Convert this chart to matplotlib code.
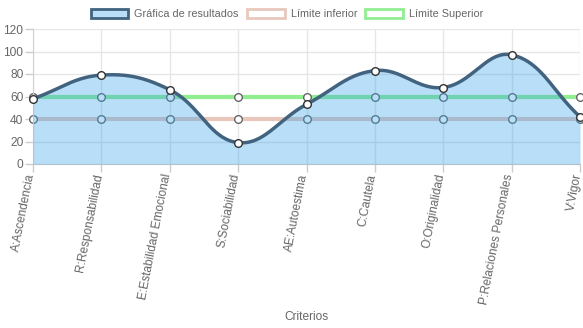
import numpy as np
import matplotlib
matplotlib.use("Agg")
import matplotlib.pyplot as plt
import matplotlib.transforms as mtransforms
from matplotlib.patches import Patch

criterios = ["A:Ascendencia", "R:Responsabilidad", "E:Estabilidad Emocional",
             "S:Sociabilidad", "AE:Autoestima", "C:Cautela", "O:Originalidad",
             "P:Relaciones Personales", "V:Vigor"]
resultados = [58, 79, 66, 19, 53, 83, 68, 97, 42]
limite_inferior = [40, 40, 40, 40, 40, 40, 40, 40, 40]
limite_superior = [60, 60, 60, 60, 60, 60, 60, 60, 60]
y_ticks = [0, 20, 40, 60, 80, 100, 120]

plt.rcParams["font.family"] = ["Liberation Sans", "DejaVu Sans"]
TXT = "#666666"

W, H = 583, 328
fig = plt.figure(figsize=(W / 100, H / 100), dpi=100)
x0, x1, ytop, ybot = 33, 580, 29, 164
ax = fig.add_axes([x0 / W, 1 - ybot / H, (x1 - x0) / W, (ybot - ytop) / H])

n = len(criterios)
xs = np.arange(n)
px_x = (x1 - x0) / (n - 1)
px_y = (ybot - ytop) / 120.0


def spline(xv, yv, tension=0.4, steps=40):
    # cubic bezier through the points, control points as in Chart.js
    P = np.column_stack([np.asarray(xv, float) * px_x, np.asarray(yv, float) * px_y])
    m = len(P)
    cp_prev = P.copy()
    cp_next = P.copy()
    for i in range(m):
        prev = P[max(i - 1, 0)]
        nxt = P[min(i + 1, m - 1)]
        d01 = np.hypot(*(P[i] - prev))
        d12 = np.hypot(*(nxt - P[i]))
        tot = d01 + d12
        s01 = d01 / tot if tot else 0
        s12 = d12 / tot if tot else 0
        cp_prev[i] = P[i] - tension * s01 * (nxt - prev)
        cp_next[i] = P[i] + tension * s12 * (nxt - prev)
    t = np.linspace(0, 1, steps)[:, None]
    seg = []
    for i in range(m - 1):
        a, b, c, d = P[i], cp_next[i], cp_prev[i + 1], P[i + 1]
        seg.append((1 - t) ** 3 * a + 3 * (1 - t) ** 2 * t * b + 3 * (1 - t) * t ** 2 * c + t ** 3 * d)
    pts = np.vstack(seg)
    return pts[:, 0] / px_x, pts[:, 1] / px_y


# grid
for v in y_ticks[1:]:
    ax.axhline(v, color="#e6e6e6", lw=1, zorder=0)
for x in xs:
    ax.axvline(x, color="#e6e6e6", lw=1, zorder=0)

# limit lines
ax.plot(xs, limite_inferior, color="#e8c7bc", lw=3, zorder=1)
ax.plot(xs, limite_superior, color="#90ee90", lw=3, zorder=1)
ax.plot(xs, limite_inferior, ls="none", marker="o", ms=5.5, mfc="white",
        mec="#666666", mew=1, zorder=2, clip_on=False)
ax.plot(xs, limite_superior, ls="none", marker="o", ms=5.5, mfc="white",
        mec="#666666", mew=1, zorder=2, clip_on=False)

# results
cx, cy = spline(xs, resultados)
ax.fill_between(cx, 0, cy, color=(54 / 255, 162 / 255, 235 / 255, 0.35), lw=0, zorder=3)
ax.plot(cx, cy, color="#42637f", lw=2.5, zorder=4, solid_capstyle="round")
ax.plot(xs, resultados, ls="none", marker="o", ms=5.5, mfc="white",
        mec="#333333", mew=1, zorder=5, clip_on=False)

ax.set_xlim(0, n - 1)
ax.set_ylim(0, 120)
ax.set_yticks(y_ticks)
ax.set_xticks(xs)
ax.set_xticklabels([])
ax.tick_params(axis="both", colors="#cccccc", labelcolor=TXT, labelsize=8.6,
               length=6, width=1)
ax.tick_params(axis="y", pad=1)
for s in ["top", "right"]:
    ax.spines[s].set_visible(False)
ax.spines["left"].set_color("#d0d0d0")
ax.spines["bottom"].set_color("#c8c8c8")

# rotated category labels hanging below the ticks
lab_tr = ax.get_xaxis_transform() + mtransforms.ScaledTranslation(
    -2 / 100, -10 / 100, fig.dpi_scale_trans)
for x, name in zip(xs, criterios):
    ax.text(x, 0, name, transform=lab_tr, rotation=79, ha="right", va="center",
            rotation_mode="anchor", color=TXT, fontsize=8.6, clip_on=False)

fig.text(306 / W, 1 - 317 / H, "Criterios", ha="center",
         va="center", color=TXT, fontsize=8.6)

handles = [
    Patch(facecolor=(54 / 255, 162 / 255, 235 / 255, 0.35), edgecolor="#42637f", lw=2),
    Patch(facecolor="white", edgecolor="#e8c7bc", lw=2),
    Patch(facecolor="white", edgecolor="#90ee90", lw=2),
]
fig.legend(handles, ["Gráfica de resultados", "Límite inferior", "Límite Superior"],
           loc="center", bbox_to_anchor=(287 / W, 1 - 14 / H), ncol=3, frameon=False,
           fontsize=7.8, labelcolor=TXT, handlelength=3.5, handleheight=1.0,
           handletextpad=0.55, columnspacing=0.75, borderaxespad=0)

fig.savefig("out.png", dpi=100)
